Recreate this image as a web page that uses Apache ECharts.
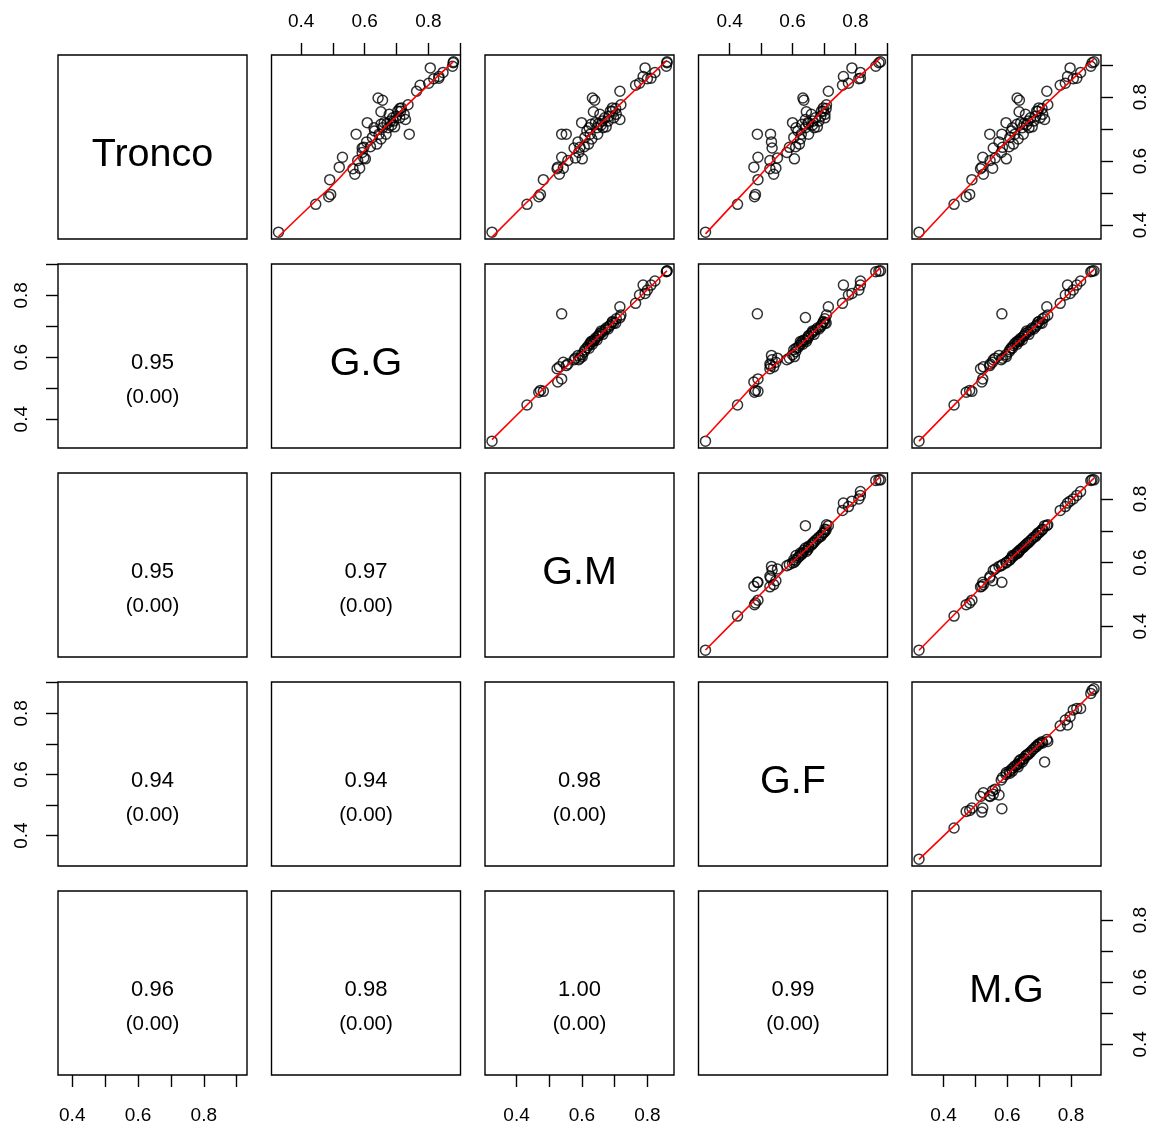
<!DOCTYPE html>
<html><head><meta charset="utf-8">
<script src="https://cdn.jsdelivr.net/npm/echarts@6/dist/echarts.min.js"></script>
<style>html,body{margin:0;padding:0;background:#fff}#c{width:1158px;height:1128px}</style>
</head><body><div id="c"></div>
<script>
const varNames = ['Tronco', 'G.G', 'G.M', 'G.F', 'M.G'];

const Tronco = [0.378,0.465,0.489,0.496,0.542,0.576,0.581,0.559,0.612,0.602,0.578,0.641,0.684,0.610,0.660,0.684,0.627,0.643,0.720,0.607,0.645,0.674,0.694,0.653,0.684,0.715,0.797,0.790,0.754,0.720,0.704,0.684,0.746,0.713,0.704,0.735,0.707,0.725,0.756,0.766,0.735,0.764,0.746,0.730,0.776,0.818,0.704,0.669,0.717,0.725,0.740,0.756,0.837,0.843,0.864,0.891,0.857,0.859,0.877,0.896,0.907,0.910];
const GG = [0.329,0.446,0.487,0.493,0.490,0.563,0.520,0.569,0.530,0.578,0.584,0.592,0.573,0.597,0.606,0.740,0.592,0.597,0.608,0.602,0.618,0.624,0.631,0.638,0.645,0.651,0.642,0.656,0.651,0.661,0.656,0.667,0.677,0.685,0.674,0.688,0.694,0.691,0.704,0.715,0.710,0.710,0.724,0.728,0.736,0.763,0.629,0.651,0.670,0.681,0.699,0.713,0.774,0.801,0.833,0.806,0.817,0.833,0.846,0.876,0.878,0.879];
const GM = [0.325,0.432,0.468,0.473,0.482,0.524,0.526,0.531,0.538,0.557,0.543,0.576,0.552,0.580,0.588,0.538,0.590,0.594,0.599,0.601,0.607,0.609,0.615,0.620,0.625,0.628,0.632,0.639,0.635,0.641,0.646,0.648,0.655,0.659,0.664,0.670,0.674,0.680,0.687,0.693,0.697,0.703,0.705,0.716,0.719,0.716,0.622,0.630,0.651,0.662,0.682,0.693,0.764,0.776,0.787,0.793,0.800,0.811,0.823,0.858,0.860,0.860];
const GF = [0.323,0.425,0.479,0.482,0.490,0.528,0.477,0.540,0.490,0.528,0.547,0.535,0.530,0.552,0.533,0.488,0.582,0.590,0.600,0.606,0.610,0.604,0.617,0.622,0.628,0.630,0.633,0.636,0.644,0.649,0.641,0.651,0.660,0.664,0.669,0.673,0.679,0.684,0.692,0.698,0.703,0.707,0.703,0.641,0.708,0.714,0.611,0.625,0.651,0.665,0.690,0.698,0.759,0.778,0.762,0.789,0.811,0.816,0.816,0.865,0.875,0.880];
const MG = [0.323,0.433,0.471,0.482,0.489,0.516,0.520,0.525,0.523,0.546,0.554,0.556,0.545,0.562,0.574,0.583,0.581,0.585,0.596,0.597,0.606,0.608,0.613,0.619,0.624,0.630,0.631,0.638,0.637,0.642,0.647,0.650,0.657,0.661,0.668,0.673,0.678,0.683,0.692,0.699,0.703,0.709,0.711,0.717,0.727,0.724,0.616,0.634,0.653,0.665,0.689,0.696,0.766,0.782,0.789,0.797,0.807,0.818,0.830,0.862,0.866,0.872];

// lower-panel texts (row, column, correlation, p-value)
const corRow = [1, 2, 2, 3, 3, 3, 4, 4, 4, 4];
const corCol = [0, 0, 1, 0, 1, 2, 0, 1, 2, 3];
const corText = ['0.95', '0.95', '0.97', '0.94', '0.94', '0.98', '0.96', '0.98', '1.00', '0.99'];
const pText = ['(0.00)', '(0.00)', '(0.00)', '(0.00)', '(0.00)', '(0.00)', '(0.00)', '(0.00)', '(0.00)', '(0.00)'];

const tickValues = [0.3, 0.4, 0.5, 0.6, 0.7, 0.8, 0.9];
const tickLabelValues = [0.4, 0.6, 0.8];

const vars = [Tronco, GG, GM, GF, MG];
const FONT = 'Liberation Sans, Arial, Helvetica, sans-serif';
const LEFT0 = 58, STEPX = 213.5, TOP0 = 55, STEPY = 209, W = 189, H = 184;
const TICK_LEN = 12;

function lim(a) {
  const mn = Math.min(...a), mx = Math.max(...a), d = mx - mn;
  return [mn - 0.04 * d, mx + 0.04 * d];
}
const lims = vars.map(lim);

// R's lowess (clowess), f = 2/3, iter = 3
function lowess(x, y, f, iter) {
  const n = x.length;
  const idx = x.map((v, i) => i).sort((a, b) => x[a] - x[b]);
  const xs = idx.map(i => x[i]), ys = idx.map(i => y[i]);
  const ns = Math.max(2, Math.min(n, Math.floor(f * n + 1e-7)));
  const rw = new Array(n).fill(1);
  const fit = new Array(n).fill(0);
  const range = xs[n - 1] - xs[0];
  for (let it = 0; it <= iter; it++) {
    let nleft = 0, nright = ns - 1;
    for (let i = 0; i < n; i++) {
      while (nright < n - 1) {
        const d1 = xs[i] - xs[nleft], d2 = xs[nright + 1] - xs[i];
        if (d1 <= d2) break;
        nleft++; nright++;
      }
      const h = Math.max(xs[i] - xs[nleft], xs[nright] - xs[i]);
      const h9 = 0.999 * h, h1 = 0.001 * h;
      const w = new Array(n).fill(0);
      let a = 0, j;
      for (j = nleft; j < n; j++) {
        const r = Math.abs(xs[j] - xs[i]);
        if (r <= h9) {
          w[j] = r <= h1 ? 1 : Math.pow(1 - Math.pow(r / h, 3), 3);
          w[j] *= rw[j];
          a += w[j];
        } else if (xs[j] > xs[i]) break;
      }
      const nrt = j - 1;
      if (a <= 0) { fit[i] = ys[i]; continue; }
      for (let k = nleft; k <= nrt; k++) w[k] /= a;
      if (h > 0) {
        let aa = 0;
        for (let k = nleft; k <= nrt; k++) aa += w[k] * xs[k];
        let b = xs[i] - aa, c = 0;
        for (let k = nleft; k <= nrt; k++) c += w[k] * (xs[k] - aa) * (xs[k] - aa);
        if (Math.sqrt(c) > 0.001 * range) {
          b /= c;
          for (let k = nleft; k <= nrt; k++) w[k] *= (b * (xs[k] - aa) + 1);
        }
      }
      let s = 0;
      for (let k = nleft; k <= nrt; k++) s += w[k] * ys[k];
      fit[i] = s;
    }
    if (it >= iter) break;
    const res = ys.map((v, i) => v - fit[i]);
    const ar = res.map(Math.abs).sort((p, q) => p - q);
    const m = Math.floor(n / 2);
    const med = n % 2 ? ar[m] : (ar[m - 1] + ar[m]) / 2;
    const cmad = 6 * med;
    if (cmad < 1e-7) break;
    for (let i = 0; i < n; i++) {
      const r = Math.abs(res[i]);
      rw[i] = r <= 0.001 * cmad ? 1 : (r > 0.999 * cmad ? 0 : Math.pow(1 - (r / cmad) * (r / cmad), 2));
    }
  }
  return xs.map((v, i) => [v, fit[i]]);
}

function makeAxis(range, show, position, gi, isY) {
  const inR = v => v >= range[0] && v <= range[1];
  let margin = 31;
  if (position === 'top') margin = 24;
  if (position === 'left') margin = 27;
  if (position === 'right') margin = 30;
  return {
    type: 'value', gridIndex: gi, min: range[0], max: range[1], position: position,
    axisLine: { show: false },
    splitLine: { show: false },
    axisTick: { show: show, length: TICK_LEN, customValues: tickValues.filter(inR),
      lineStyle: { color: '#000', width: 1.4 } },
    axisLabel: { show: show, customValues: tickLabelValues.filter(inR),
      formatter: v => Number(v).toFixed(1), color: '#000', fontSize: 19, fontFamily: FONT,
      margin: margin, rotate: isY ? 90 : 0, hideOverlap: false }
  };
}

const grids = [], xAxes = [], yAxes = [], series = [], graphics = [];
for (let r = 0; r < 5; r++) {
  for (let c = 0; c < 5; c++) {
    const p = r * 5 + c;
    const L = LEFT0 + c * STEPX, T = TOP0 + r * STEPY;
    grids.push({ left: L, top: T, width: W, height: H, show: true, borderColor: '#000',
      borderWidth: 1.4, backgroundColor: 'rgba(0,0,0,0)', containLabel: false, outerBoundsMode: 'none' });
    const showX = (r === 0 && c % 2 === 1) || (r === 4 && c % 2 === 0);
    const showY = (c === 0 && r % 2 === 1) || (c === 4 && r % 2 === 0);
    xAxes.push(makeAxis(lims[c], showX, r === 0 ? 'top' : 'bottom', p, false));
    yAxes.push(makeAxis(lims[r], showY, c === 0 ? 'left' : 'right', p, true));
    if (c > r) {
      const xv = vars[c], yv = vars[r];
      series.push({
        type: 'scatter', xAxisIndex: p, yAxisIndex: p, silent: true, animation: false,
        symbol: 'circle', symbolSize: 10,
        itemStyle: { color: 'rgba(0,0,0,0)', borderColor: '#000', borderWidth: 1.5 },
        data: xv.map((v, i) => [v, yv[i]])
      });
      series.push({
        type: 'line', xAxisIndex: p, yAxisIndex: p, silent: true, animation: false,
        showSymbol: false, symbol: 'none',
        lineStyle: { color: '#ff0000', width: 1.6 },
        data: lowess(xv, yv, 2 / 3, 3)
      });
    } else if (c === r) {
      graphics.push({ type: 'text', x: L + W / 2, y: T + H / 2 + 8, silent: true,
        style: { text: varNames[r], font: '39.5px ' + FONT, fill: '#000', align: 'center', verticalAlign: 'middle' } });
    }
  }
}
for (let k = 0; k < corText.length; k++) {
  const L = LEFT0 + corCol[k] * STEPX, T = TOP0 + corRow[k] * STEPY;
  graphics.push({ type: 'text', x: L + W / 2, y: T + H / 2 + 7, silent: true,
    style: { text: corText[k], font: '22px ' + FONT, fill: '#000', align: 'center', verticalAlign: 'middle' } });
  graphics.push({ type: 'text', x: L + W / 2, y: T + H / 2 + 41, silent: true,
    style: { text: pText[k], font: '20.5px ' + FONT, fill: '#000', align: 'center', verticalAlign: 'middle' } });
}

const chart = echarts.init(document.getElementById('c'), null, { renderer: 'canvas' });
chart.setOption({
  animation: false,
  backgroundColor: '#fff',
  grid: grids, xAxis: xAxes, yAxis: yAxes, series: series,
  graphic: { elements: graphics }
});
</script></body></html>
